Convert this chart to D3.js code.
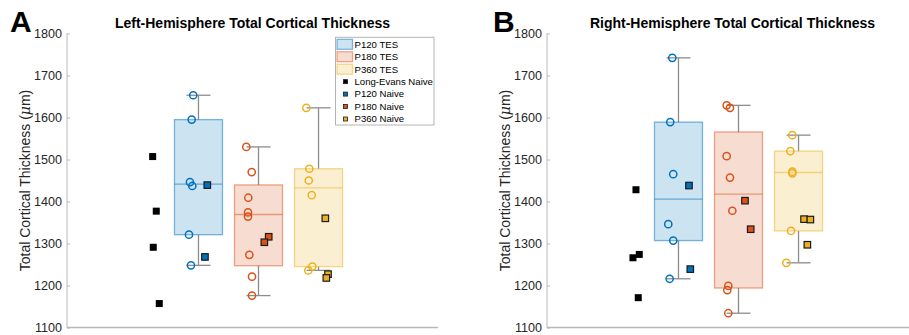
<!DOCTYPE html>
<html>
<head>
<meta charset="utf-8">
<script src="https://cdn.jsdelivr.net/npm/d3@7"></script>
<style>
  body { margin: 0; background: #fff; }
  text { font-family: "Liberation Sans", Arial, sans-serif; }
</style>
</head>
<body>
<svg id="drawspace" width="909" height="335"></svg>
<script>
// group positions on the x axis: naive Long-Evans at 0, TES groups at 1..3
let groupNames = ["P120", "P180", "P360"];
let groupColors = ["#0072BD", "#D95319", "#EDB120"];
let yTicks = [1100, 1200, 1300, 1400, 1500, 1600, 1700, 1800];

// left hemisphere (values in um, jitter in group units)
let lhLE = [1507, 1377, 1291, 1157];
let lhLEJit = [0.237, 0.297, 0.247, 0.347];
let lhP120TES = [1653, 1595, 1446, 1437, 1321, 1248];
let lhP120TESJit = [-0.087, -0.113, -0.142, -0.103, -0.158, -0.125];
let lhP180TES = [1530, 1470, 1409, 1374, 1364, 1273, 1221, 1176];
let lhP180TESJit = [-0.203, -0.113, -0.17, -0.175, -0.175, -0.153, -0.108, -0.108];
let lhP360TES = [1623, 1478, 1450, 1415, 1245, 1236];
let lhP360TESJit = [-0.203, -0.153, -0.163, -0.113, -0.103, -0.17];
let lhP120N = [1439, 1268];
let lhP120NJit = [0.147, 0.108];
let lhP180N = [1316, 1303];
let lhP180NJit = [0.17, 0.097];
let lhP360N = [1360, 1227, 1218];
let lhP360NJit = [0.113, 0.158, 0.13];

// right hemisphere
let rhLE = [1428, 1274, 1266, 1171];
let rhLEJit = [0.292, 0.347, 0.242, 0.33];
let rhP120TES = [1742, 1589, 1465, 1346, 1307, 1216];
let rhP120TESJit = [-0.103, -0.137, -0.087, -0.17, -0.087, -0.147];
let rhP180TES = [1629, 1623, 1508, 1457, 1378, 1199, 1189, 1134];
let rhP180TESJit = [-0.197, -0.142, -0.197, -0.142, -0.103, -0.17, -0.187, -0.17];
let rhP360TES = [1558, 1520, 1471, 1467, 1330, 1254];
let rhP360TESJit = [-0.103, -0.137, -0.103, -0.103, -0.125, -0.203];
let rhP120N = [1438, 1239];
let rhP120NJit = [0.175, 0.197];
let rhP180N = [1402, 1334];
let rhP180NJit = [0.108, 0.203];
let rhP360N = [1358, 1357, 1297];
let rhP360NJit = [0.092, 0.197, 0.147];

let legendLabels = ["P120 TES", "P180 TES", "P360 TES", "Long-Evans Naive", "P120 Naive", "P180 Naive", "P360 Naive"];

let svg = d3.select("#drawspace");
let dsw = 371, dsh = 294;
let xscale = d3.scaleLinear().domain([-1.19, 4.99]).range([0, dsw]);
let yscale = d3.scaleLinear().domain([1100, 1800]).range([dsh, 0]);
let axisCol = "#b8b8b8";

// matlab style percentile
function prc(arr, p) {
  let s = arr.slice().sort((a, b) => a - b);
  let n = s.length;
  let idx = n * p / 100 + 0.5;
  if (idx <= 1) return s[0];
  if (idx >= n) return s[n - 1];
  let lo = Math.floor(idx), f = idx - lo;
  return s[lo - 1] + f * (s[lo] - s[lo - 1]);
}

function drawPanel(ox, letter, title, le, leJ, tes, tesJ, nv, nvJ, showLegend) {
  let g = svg.append("g").attr("transform", "translate(" + ox + ",33.5)");

  // axes
  g.append("line").attr("x1", 0).attr("x2", dsw).attr("y1", dsh).attr("y2", dsh)
    .attr("stroke", axisCol).attr("stroke-width", 1.3);
  g.append("line").attr("x1", 0).attr("x2", 0).attr("y1", 0).attr("y2", dsh)
    .attr("stroke", axisCol).attr("stroke-width", 1);
  let yax = g.append("g").call(d3.axisLeft(yscale).tickValues(yTicks).tickFormat(d3.format("d"))
    .tickSize(-3).tickPadding(5));
  yax.select(".domain").remove();
  yax.selectAll(".tick line").attr("stroke", axisCol);
  yax.selectAll(".tick text").attr("fill", "#262626")
    .style("font-size", "12.6px").style("font-family", "'Liberation Sans', Arial, sans-serif");

  g.append("text").attr("transform", "translate(-37," + (dsh / 2) + ") rotate(-90)")
    .attr("text-anchor", "middle").style("font-size", "14px").attr("fill", "#262626")
    .html("Total Cortical Thickness (<tspan font-style='italic' font-family='DejaVu Serif, serif'>\u03bc</tspan>m)");

  g.append("text").attr("x", dsw / 2).attr("y", -6).attr("text-anchor", "middle")
    .style("font-size", "14px").style("font-weight", "bold").attr("fill", "#000").text(title);

  g.append("text").attr("x", letter === "A" ? -57 : -54).attr("y", -1.5).style("font-size", "30px")
    .style("font-weight", "bold").attr("fill", "#000").text(letter);

  // boxes
  tes.forEach((vals, i) => {
    let pos = i + 1, col = groupColors[i];
    let q1 = prc(vals, 25), med = prc(vals, 50), q3 = prc(vals, 75);
    let iqr = q3 - q1;
    let lo = d3.min(vals.filter(v => v >= q1 - 1.5 * iqr));
    let hi = d3.max(vals.filter(v => v <= q3 + 1.5 * iqr));
    let bx = xscale(pos - 0.4), bw = xscale(pos + 0.4) - xscale(pos - 0.4);
    let cx = xscale(pos);
    let cw = xscale(pos + 0.2) - xscale(pos);
    let wg = g.append("g").attr("stroke", "#8c8c8c").attr("stroke-width", 1.3);
    wg.append("line").attr("x1", cx).attr("x2", cx).attr("y1", yscale(q3)).attr("y2", yscale(hi));
    wg.append("line").attr("x1", cx).attr("x2", cx).attr("y1", yscale(q1)).attr("y2", yscale(lo));
    wg.append("line").attr("x1", cx - cw).attr("x2", cx + cw).attr("y1", yscale(hi)).attr("y2", yscale(hi));
    wg.append("line").attr("x1", cx - cw).attr("x2", cx + cw).attr("y1", yscale(lo)).attr("y2", yscale(lo));
    g.append("rect").attr("x", bx).attr("y", yscale(q3)).attr("width", bw)
      .attr("height", yscale(q1) - yscale(q3))
      .attr("fill", col).attr("fill-opacity", 0.2)
      .attr("stroke", col).attr("stroke-opacity", 0.5).attr("stroke-width", 1.3);
    g.append("line").attr("x1", bx).attr("x2", bx + bw).attr("y1", yscale(med)).attr("y2", yscale(med))
      .attr("stroke", col).attr("stroke-opacity", 0.5).attr("stroke-width", 1.3);
  });

  // TES circles
  tes.forEach((vals, i) => {
    g.append("g").selectAll("circle").data(vals).enter().append("circle")
      .attr("cx", (d, j) => xscale(i + 1 + tesJ[i][j]))
      .attr("cy", d => yscale(d))
      .attr("r", 3.6)
      .attr("fill", "none").attr("stroke", groupColors[i]).attr("stroke-width", 1.5);
  });

  // naive squares
  let sq = 6.5;
  g.append("g").selectAll("rect").data(le).enter().append("rect")
    .attr("x", (d, j) => xscale(leJ[j]) - 3.5)
    .attr("y", d => yscale(d) - 3.5)
    .attr("width", 7).attr("height", 7).attr("fill", "#000");
  nv.forEach((vals, i) => {
    g.append("g").selectAll("rect").data(vals).enter().append("rect")
      .attr("x", (d, j) => xscale(i + 1 + nvJ[i][j]) - sq / 2)
      .attr("y", d => yscale(d) - sq / 2)
      .attr("width", sq).attr("height", sq)
      .attr("fill", groupColors[i]).attr("stroke", "#1a1a1a").attr("stroke-width", 1.2);
  });

  if (showLegend) {
    let lg = g.append("g").attr("transform", "translate(268.5,3.8)");
    lg.append("rect").attr("x", 0).attr("y", 0).attr("width", 98.5).attr("height", 87.7)
      .attr("fill", "#fff").attr("stroke", "#b4b4b4").attr("stroke-width", 1);
    legendLabels.forEach((lab, k) => {
      let yy = 7 + k * 12.45;
      if (k < 3) {
        lg.append("rect").attr("x", 1.5).attr("y", yy - 5).attr("width", 15.5).attr("height", 10)
          .attr("fill", groupColors[k]).attr("fill-opacity", 0.2)
          .attr("stroke", groupColors[k]).attr("stroke-opacity", 0.5).attr("stroke-width", 1.2);
      } else {
        let c = k === 3 ? "#000" : groupColors[k - 4];
        lg.append("rect").attr("x", 8).attr("y", yy - 2).attr("width", 4).attr("height", 4)
          .attr("fill", c).attr("stroke", "#1a1a1a").attr("stroke-width", 0.8);
      }
      lg.append("text").attr("x", 19).attr("y", yy).attr("dy", "0.35em")
        .style("font-size", "9.6px").attr("fill", "#000").text(lab);
    });
  }
}

drawPanel(67, "A", "Left-Hemisphere Total Cortical Thickness",
  lhLE, lhLEJit,
  [lhP120TES, lhP180TES, lhP360TES], [lhP120TESJit, lhP180TESJit, lhP360TESJit],
  [lhP120N, lhP180N, lhP360N], [lhP120NJit, lhP180NJit, lhP360NJit], true);

drawPanel(547, "B", "Right-Hemisphere Total Cortical Thickness",
  rhLE, rhLEJit,
  [rhP120TES, rhP180TES, rhP360TES], [rhP120TESJit, rhP180TESJit, rhP360TESJit],
  [rhP120N, rhP180N, rhP360N], [rhP120NJit, rhP180NJit, rhP360NJit], false);
</script>
</body>
</html>
